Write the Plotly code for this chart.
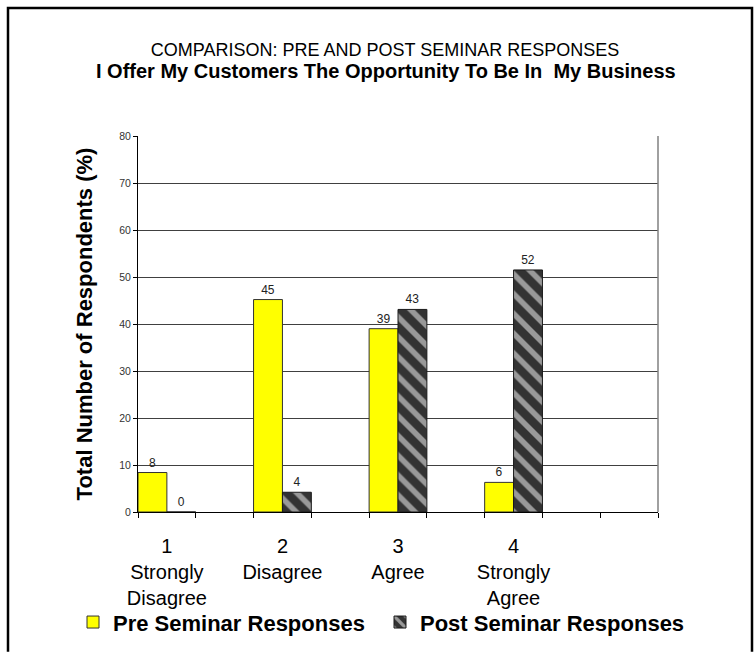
import plotly.graph_objects as go

# Response categories (one group of bars per category)
categories = ["1<br>Strongly<br>Disagree", "2<br>Disagree", "3<br>Agree", "4<br>Strongly<br>Agree"]
pre_values = [8.4, 45.2, 39.0, 6.3]
post_values = [0.0, 4.2, 43.1, 51.5]
series_names = ["Pre Seminar Responses", "Post Seminar Responses"]
y_ticks = [0, 10, 20, 30, 40, 50, 60, 70, 80]
title_top = "COMPARISON: PRE AND POST SEMINAR RESPONSES"
title_main = "I Offer My Customers The Opportunity To Be In\u00a0 My Business"

W, H = 756, 655
M = dict(l=138, r=98, t=136, b=137)
FONT = "Arial, 'Liberation Sans', Helvetica, sans-serif"

# each category owns one slot followed by an empty slot; 9 slots on the axis
n_slots = 9
slot_pos = [2 * i for i in range(len(categories))]
label_pos = [p + 0.5 for p in slot_pos]

pw = W - M["l"] - M["r"]
ph = H - M["t"] - M["b"]


def px_x(x):
    return (x - M["l"]) / pw


def px_y(y):
    return (H - M["b"] - y) / ph


fig = go.Figure()
fig.add_trace(go.Bar(
    name=series_names[0], x=slot_pos, y=pre_values, width=0.5, offset=0,
    marker=dict(color="#FFFF00", line=dict(color="#333333", width=1)),
    texttemplate="%{y:.0f}", textposition="outside",
    textfont=dict(family=FONT, size=12, color="#222222"), cliponaxis=False,
))
fig.add_trace(go.Bar(
    name=series_names[1], x=slot_pos, y=post_values, width=0.5, offset=0.5,
    marker=dict(color="#333333", line=dict(color="#1a1a1a", width=1),
                pattern=dict(shape="\\", bgcolor="#333333", fgcolor="#FFFFFF",
                             size=14, solidity=0.4)),
    texttemplate="%{y:.0f}", textposition="outside",
    textfont=dict(family=FONT, size=12, color="#222222"), cliponaxis=False,
))

fig.update_layout(
    width=W, height=H, margin=M, autosize=False,
    paper_bgcolor="white", plot_bgcolor="white",
    barmode="overlay",
    font=dict(family=FONT, color="black"),
    title=dict(
        text=title_top,
        font=dict(family=FONT, size=18, color="black"),
        x=385 / W, xanchor="center", xref="container",
        y=1 - 50 / H, yanchor="middle", yref="container",
    ),
    annotations=[
        dict(text=f"<b>{title_main}</b>", xref="paper", yref="paper",
             x=px_x(386), y=px_y(70), xanchor="center", yanchor="middle",
             showarrow=False, font=dict(family=FONT, size=20, color="black")),
    ],
    xaxis=dict(
        range=[0, n_slots], tickmode="array", tickvals=label_pos, ticktext=categories,
        ticks="", showgrid=False, zeroline=False,
        showline=True, linecolor="black", linewidth=1,
        tickfont=dict(family=FONT, size=20, color="black"),
        ticklabelstandoff=16,
        minor=dict(tickmode="array", tickvals=list(range(n_slots + 1)), ticks="outside",
                   ticklen=5, tickwidth=1, tickcolor="black", showgrid=False),
    ),
    yaxis=dict(
        range=[0, 80], tickmode="array", tickvals=y_ticks,
        ticks="outside", ticklen=4, tickwidth=1, tickcolor="black",
        showline=True, linecolor="black", linewidth=1,
        showgrid=True, gridcolor="#404040", gridwidth=1, zeroline=False,
        tickfont=dict(family=FONT, size=10.5, color="#333333"),
        title=dict(text="<b>Total Number of Respondents (%)</b>",
                   font=dict(family=FONT, size=22, color="black"), standoff=20),
    ),
    legend=dict(
        orientation="h", x=px_x(73), xanchor="left", y=px_y(630), yanchor="middle",
        font=dict(family=FONT, size=22, color="black", weight="bold"),
        entrywidth=262, entrywidthmode="pixels", traceorder="normal",
        bgcolor="rgba(0,0,0,0)",
    ),
    shapes=[
        # right edge of the plotting area
        dict(type="line", xref="paper", yref="paper", x0=1, x1=1, y0=0, y1=1,
             line=dict(color="#808080", width=1.5)),
        # outer frame around the whole chart
        dict(type="path", xref="paper", yref="paper",
             path=(f"M {px_x(8)} {px_y(H + 5)} L {px_x(8)} {px_y(6)} "
                   f"L {px_x(752)} {px_y(6)} L {px_x(752)} {px_y(H + 5)}"),
             line=dict(color="black", width=2.5)),
    ],
)

fig.write_html("out.html")
